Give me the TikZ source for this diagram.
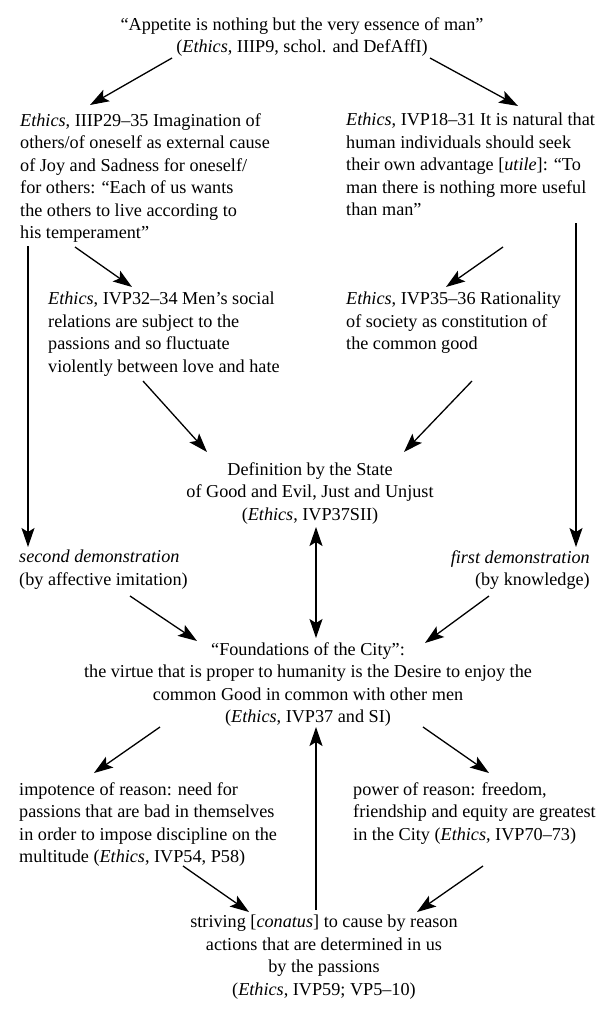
\documentclass[tikz,border=0pt]{standalone}
\usepackage{fontspec}
\setmainfont{Liberation Serif}
\usetikzlibrary{arrows.meta}
\newcommand{\fsz}{\fontsize{18.2}{22.5}\selectfont}
\tikzset{
  txt/.style={inner sep=0pt, font=\fsz, align=left},
  ctxt/.style={inner sep=0pt, font=\fsz, align=center},
  rtxt/.style={inner sep=0pt, font=\fsz, align=right},
  tip/.tip={Stealth[length=19pt,width=13pt,inset=4pt]},
  arr/.style={line width=1.3pt, -tip},
  darr/.style={line width=1.3pt, tip-tip}
}
\begin{document}
\begin{tikzpicture}[x=1pt,y=-1pt]
\useasboundingbox (0,0) rectangle (602,1023);
\node[ctxt, anchor=north] (T) at (302,17) {``Appetite is nothing but the very essence of man''\\(\textit{Ethics}, IIIP9, schol. and DefAffI)};
\node[txt, anchor=north west] (L1) at (20,113) {\textit{Ethics}, IIIP29--35 Imagination of\\others/of oneself as external cause\\of Joy and Sadness for oneself/\\for others: ``Each of us wants\\the others to live according to\\his temperament''};
\node[txt, anchor=north west] (R1) at (346,113) {\textit{Ethics}, IVP18--31 It is natural that\\human individuals should seek\\their own advantage [\textit{utile}]: ``To\\man there is nothing more useful\\than man''};
\node[txt, anchor=north west] (L2) at (48,292) {\textit{Ethics}, IVP32--34 Men's social\\relations are subject to the\\passions and so fluctuate\\violently between love and hate};
\node[txt, anchor=north west] (R2) at (346,292) {\textit{Ethics}, IVP35--36 Rationality\\of society as constitution of\\the common good};
\node[ctxt, anchor=north] (C1) at (310,462) {Definition by the State\\of Good and Evil, Just and Unjust\\(\textit{Ethics}, IVP37SII)};
\node[txt, anchor=north west] (SL) at (19,550) {\textit{second demonstration}\\(by affective imitation)};
\node[rtxt, anchor=north east] (SR) at (590,550) {\textit{first demonstration}\\(by knowledge)};
\node[ctxt, anchor=north] (C2) at (308,642) {``Foundations of the City'':\\the virtue that is proper to humanity is the Desire to enjoy the\\common Good in common with other men\\(\textit{Ethics}, IVP37 and SI)};
\node[txt, anchor=north west] (L3) at (19,782) {impotence of reason: need for\\passions that are bad in themselves\\in order to impose discipline on the\\multitude (\textit{Ethics}, IVP54, P58)};
\node[txt, anchor=north west] (R3) at (353,782) {power of reason: freedom,\\friendship and equity are greatest\\in the City (\textit{Ethics}, IVP70--73)};
\node[ctxt, anchor=north] (B) at (324,915) {striving [\textit{conatus}] to cause by reason\\actions that are determined in us\\by the passions\\(\textit{Ethics}, IVP59; VP5--10)};
% connector end points
\coordinate (t1) at (172,58);  \coordinate (l1t) at (90,105);
\coordinate (t2) at (430,58);  \coordinate (r1t) at (518,106);
\coordinate (l1b) at (75,247); \coordinate (l2t) at (132,287);
\coordinate (r1b) at (503,247); \coordinate (r2t) at (446,287);
\coordinate (l2b) at (143,381); \coordinate (c1l) at (207,452);
\coordinate (r2b) at (472,381); \coordinate (c1r) at (404,452);
\coordinate (lv1) at (28,246); \coordinate (lv2) at (28,547);
\coordinate (rv1) at (576,223); \coordinate (rv2) at (576,547);
\coordinate (c1b) at (316,527); \coordinate (c2t) at (316,638);
\coordinate (sll) at (130,596); \coordinate (c2l) at (197,641);
\coordinate (srr) at (489,596); \coordinate (c2r) at (425,643);
\coordinate (c2bl) at (160,727); \coordinate (l3t) at (94,773);
\coordinate (c2br) at (423,727); \coordinate (r3t) at (489,773);
\coordinate (c2b) at (316,727); \coordinate (bt) at (316,910);
\coordinate (l3b) at (183,866); \coordinate (bl) at (249,912);
\coordinate (r3b) at (483,866); \coordinate (br) at (417,912);
% connectors
\draw[arr] (t1) -- (l1t);
\draw[arr] (t2) -- (r1t);
\draw[arr] (l1b) -- (l2t);
\draw[arr] (r1b) -- (r2t);
\draw[arr] (l2b) -- (c1l);
\draw[arr] (r2b) -- (c1r);
\draw[arr] (lv1) -- (lv2);
\draw[arr] (rv1) -- (rv2);
\draw[darr] (c1b) -- (c2t);
\draw[arr] (sll) -- (c2l);
\draw[arr] (srr) -- (c2r);
\draw[arr] (c2bl) -- (l3t);
\draw[arr] (c2br) -- (r3t);
\draw[arr] (bt) -- (c2b);
\draw[arr] (l3b) -- (bl);
\draw[arr] (r3b) -- (br);
\end{tikzpicture}
\end{document}
